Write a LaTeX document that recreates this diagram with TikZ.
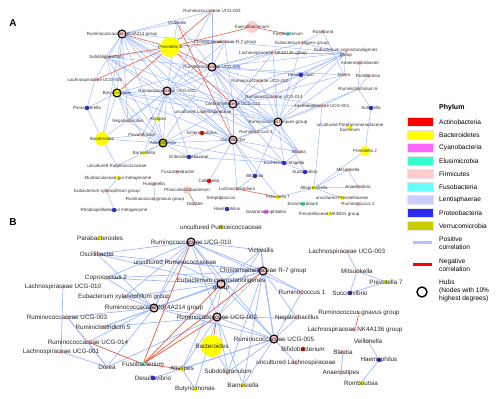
\documentclass[tikz,border=0pt]{standalone}
\usepackage{fontspec}
\setmainfont{Liberation Sans}
\usepackage{xcolor}
\usetikzlibrary{backgrounds}

\definecolor{actc}{HTML}{FF0000}
\definecolor{bacc}{HTML}{FFFF00}
\definecolor{cyac}{HTML}{FF66FF}
\definecolor{eluc}{HTML}{33FFCC}
\definecolor{firc}{HTML}{FFCCCC}
\definecolor{fusc}{HTML}{66FFFF}
\definecolor{lenc}{HTML}{CCCCFF}
\definecolor{proc}{HTML}{2B2BF0}
\definecolor{verc}{HTML}{CCCC00}
\definecolor{posc}{HTML}{9DB9FF}
\definecolor{negc}{HTML}{E5583F}

\tikzset{
  nd/.style={circle, inner sep=0pt, minimum size=4.5pt, draw=none},
  hub/.style={circle, inner sep=0pt, minimum size=8pt, draw=black, line width=1.1pt},
  la/.style={font=\fontsize{4.5}{5}\selectfont, inner sep=0pt, text=black!80},
  lb/.style={font=\fontsize{6.3}{7}\selectfont, inner sep=0pt, text=black!85},
  lg/.style={font=\fontsize{6.6}{8}\selectfont, inner sep=0pt, anchor=west, align=left},
  legbox/.style={rectangle, minimum width=26pt, minimum height=9pt, inner sep=0pt, draw=white!90!black},
  posedge/.style={draw=posc, line width=0.5pt},
  negedge/.style={draw=negc, line width=0.55pt},
  panel/.style={font=\bfseries\fontsize{10}{10}\selectfont}
}

\begin{document}
\begin{tikzpicture}[x=1pt, y=-1pt]
\useasboundingbox (0,0) rectangle (504,399);

% panel A
\node[panel] (pA) at (13,23) {A};
\node[hub,fill=firc,label={[la]center:Ruminococcaceae NK4A214 group}] (aNK) at (122,34) {};
\node[nd,fill=bacc,minimum size=20pt,label={[la]center:Prevotella 9}] (aPrev9) at (170,47) {};
\node[nd,fill=firc,label={[la]center:Subdoligranulum}] (aSubdo) at (106,57) {};
\node[nd,fill=firc,label={[la]center:Lachnospiraceae UCG-006}] (aLUCG006) at (95,80) {};
\node[hub,fill=bacc,label={[la]center:Butyricimonas}] (aButy) at (117,93) {};
\node[hub,fill=firc,label={[la]center:Ruminococcaceae UCG-002}] (aRUCG002) at (167,91) {};
\node[nd,fill=proc,label={[la]center:Parasutterella}] (aParas) at (87,108) {};
\node[nd,fill=firc,label={[la]center:Ruminococcaceae UCG-003}] (aUCG003) at (212,11) {};
\node[nd,fill=lenc,label={[la]center:Victivallis}] (aVicti) at (177,23) {};
\node[nd,fill=firc,minimum size=12pt,label={[la]center:Faecalibacterium}] (aFaec) at (252,27) {};
\node[nd,fill=fusc,label={[la]center:Fusobacterium}] (aFuso) at (288,34) {};
\node[nd,fill=firc,label={[la]center:Christensenellaceae R-7 group}] (aChris) at (225,42) {};
\node[nd,fill=firc,label={[la]center:Eubacterium eligens group}] (aEelig) at (302,43) {};
\node[nd,fill=firc,label={[la]center:Lachnospiraceae NK4A136 group}] (aLNK136) at (273,53) {};
\node[hub,fill=firc,label={[la]center:Ruminococcaceae UCG-005}] (aUCG005) at (212,67) {};
\node[nd,fill=proc,label={[la]center:Desulfovibrio}] (aDesulfo) at (301,75) {};
\node[nd,fill=firc,label={[la]center:Ruminococcaceae UCG-010}] (aR010) at (260,81) {};
\node[nd,fill=firc,label={[la]center:Ruminococcaceae UCG-014}] (aRUCG014) at (274,97) {};
\node[hub,fill=firc,label={[la]center:Lachnospiraceae UCG-010}] (aLhub) at (233,104) {};
\node[nd,fill=firc,label={[la]center:Lachnospiraceae UCG-001}] (aLUCG001) at (322,106) {};
\node[nd,fill=firc,label={[la]center:Roseburia}] (aRoseb) at (323,32) {};
\node[nd,fill=firc,label={[la,align=center]center:Eubacterium coprostanoligenes\\group}] (aEcopro) at (346,53) {};
\node[nd,fill=firc,label={[la]center:Anaerosporobacter}] (aAnaerosp) at (360,63) {};
\node[nd,fill=firc,label={[la]center:Dorea}] (aDorea) at (344,75) {};
\node[nd,fill=firc,label={[la]center:Romboutsia}] (aRombo) at (368,76) {};
\node[nd,fill=firc,label={[la]center:Ruminiclostridium 6}] (aRclos6) at (358,89) {};
\node[nd,fill=proc,label={[la]center:Sutterella}] (aSutt) at (371,108) {};
\node[nd,fill=firc,label={[la]center:Negativibacillus}] (aNegat) at (128,121) {};
\node[nd,fill=bacc,label={[la]center:Alistipes}] (aAlis) at (158,119) {};
\node[nd,fill=bacc,minimum size=14pt,label={[la]center:Bacteroides}] (aBact) at (102,139) {};
\node[nd,fill=firc,label={[la]center:Flavonifractor}] (aFlavo) at (142,135) {};
\node[hub,fill=verc,label={[la]center:Akkermansia}] (aAkk) at (163,143) {};
\node[nd,fill=bacc,label={[la]center:Barnesiella}] (aBarn) at (144,153) {};
\node[nd,fill=firc,label={[la]center:uncultured Ruminococcaceae}] (aUncRum) at (117,166) {};
\node[nd,fill=bacc,label={[la]center:Muribaculaceae gut metagenome}] (aMuri) at (118,178) {};
\node[nd,fill=firc,label={[la]center:Eubacterium xylanophilum group}] (aEuxyl) at (107,191) {};
\node[nd,fill=firc,label={[la]center:Hungatella}] (aHunga) at (154,184) {};
\node[nd,fill=firc,label={[la]center:Ruminococcus gnavus group}] (aRgnav) at (155,199) {};
\node[nd,fill=proc,label={[la]center:Rhodospirillales gut metagenome}] (aRhodo) at (114,210) {};
\node[nd,fill=firc,label={[la]center:uncultured Lachnospiraceae}] (aUncLach) at (203,112) {};
\node[hub,fill=firc,label={[la]center:Ruminococcus torques group}] (aRtorq) at (278,122) {};
\node[nd,fill=firc,label={[la]center:Ruminococcus 1}] (aRum1) at (256,132) {};
\node[nd,fill=actc,label={[la]center:Enterorhabdus}] (aEnterorh) at (202,133) {};
\node[hub,fill=firc,label={[la]center:Oscillibacter}] (aOsci) at (233,140) {};
\node[nd,fill=firc,label={[la]center:Blautia}] (aBlautia) at (299,152) {};
\node[nd,fill=proc,label={[la]center:Enterobacteriaceae}] (aEntero) at (189,157) {};
\node[nd,fill=proc,label={[la]center:Escherichia-Shigella}] (aEsch) at (284,163) {};
\node[nd,fill=firc,label={[la]center:Fusicatenibacter}] (aFusicat) at (178,172) {};
\node[nd,fill=proc,label={[la]center:Succinivibrio}] (aSuccin) at (305,172) {};
\node[nd,fill=proc,label={[la]center:Bilophila}] (aBilo) at (255,176) {};
\node[nd,fill=actc,label={[la]center:Collinsella}] (aColl) at (209,181) {};
\node[nd,fill=firc,minimum size=8pt,label={[la]center:Phascolarctobacterium}] (aPhasc) at (187,190) {};
\node[nd,fill=firc,label={[la]center:Lachnoclostridium}] (aLachnoc) at (237,189) {};
\node[nd,fill=bacc,label={[la]center:Prevotella 7}] (aPrev7) at (278,197) {};
\node[nd,fill=bacc,label={[la]center:Alloprevotella}] (aAllop) at (314,188) {};
\node[nd,fill=firc,label={[la]center:Streptococcus}] (aStrep) at (221,198) {};
\node[nd,fill=firc,label={[la]center:Dialister}] (aDial) at (195,204) {};
\node[nd,fill=eluc,label={[la]center:Elusimicrobium}] (aElusi) at (303,204) {};
\node[nd,fill=proc,label={[la]center:Haemophilus}] (aHaem) at (227,209) {};
\node[nd,fill=cyac,label={[la]center:Gastranaerophilales}] (aGastr) at (266,212) {};
\node[nd,fill=bacc,label={[la]center:Prevotellaceae NK3B31 group}] (aPNK3B31) at (329,214) {};
\node[nd,fill=bacc,label={[la,align=center]center:uncultured Porphyromonadaceae\\bacterium}] (aPorph) at (350,127) {};
\node[nd,fill=bacc,minimum size=10pt,label={[la]center:Prevotella 2}] (aPrev2) at (365,151) {};
\node[nd,fill=firc,label={[la]center:Mitsuokella}] (aMitsu) at (348,170) {};
\node[nd,fill=firc,label={[la]center:Anaerovibrio}] (aAnaerovib) at (358,187) {};
\node[nd,fill=bacc,label={[la]center:uncultured Prevotellaceae}] (aUncPrev) at (342,198) {};
\node[nd,fill=firc,label={[la]center:Ruminococcus 2}] (aRum2) at (358,204) {};

% panel B
\node[panel] (pB) at (13,222) {B};
\node[nd,fill=verc,label={[lb]center:uncultured Puniceicoccaceae}] (bPuni) at (221,227) {};
\node[nd,fill=bacc,label={[lb]center:Parabacteroides}] (bParab) at (100,238) {};
\node[hub,fill=firc,label={[lb]center:Ruminococcaceae UCG-010}] (bRUCG010) at (191,242) {};
\node[nd,fill=lenc,label={[lb]center:Victivallis}] (bVicti) at (261,250) {};
\node[nd,fill=firc,label={[lb]center:Oscillibacter}] (bOsci) at (97,254) {};
\node[nd,fill=firc,label={[lb]center:uncultured Ruminococcaceae}] (bUncRum) at (175,262) {};
\node[hub,fill=firc,label={[lb]center:Christensenellaceae R-7 group}] (bChris) at (263,271) {};
\node[nd,fill=firc,label={[lb]center:Lachnospiraceae UCG-003}] (bLUCG003) at (347,252) {};
\node[nd,fill=firc,label={[lb]center:Mitsuokella}] (bMitsu) at (357,271) {};
\node[nd,fill=firc,label={[lb]center:Coprococcus 2}] (bCopro2) at (106,278) {};
\node[hub,fill=firc,label={[lb,align=center]center:Eubacterium coprostanoligenes\\group}] (bEcopro) at (221,284) {};
\node[nd,fill=bacc,label={[lb]center:Prevotella 7}] (bPrev7) at (386,282) {};
\node[nd,fill=firc,label={[lb]center:Lachnospiraceae UCG-010}] (bLUCG010) at (63,287) {};
\node[nd,fill=firc,label={[lb]center:Ruminococcus 1}] (bRum1) at (302,292) {};
\node[nd,fill=proc,label={[lb]center:Succinivibrio}] (bSuccin) at (350,293) {};
\node[nd,fill=firc,label={[lb]center:Eubacterium xylanophilum group}] (bEuxyl) at (124,297) {};
\node[hub,fill=firc,label={[lb]center:Ruminococcaceae NK4A214 group}] (bNK) at (154,308) {};
\node[nd,fill=firc,label={[lb]center:Ruminococcaceae UCG-003}] (bUCG003) at (67,317) {};
\node[nd,fill=firc,label={[lb]center:Ruminiclostridium 5}] (bRclos) at (103,327) {};
\node[hub,fill=firc,label={[lb]center:Ruminococcaceae UCG-002}] (bUCG002) at (217,317) {};
\node[nd,fill=firc,label={[lb]center:Negativibacillus}] (bNegat) at (297,318) {};
\node[nd,fill=firc,label={[lb]center:Ruminococcus gnavus group}] (bGnav) at (359,313) {};
\node[nd,fill=firc,label={[lb]center:Lachnospiraceae NK4A136 group}] (bLNK136) at (355,330) {};
\node[hub,fill=firc,label={[lb]center:Ruminococcaceae UCG-005}] (bUCG005) at (274,339) {};
\node[nd,fill=firc,label={[lb]center:Veillonella}] (bVeil) at (368,341) {};
\node[nd,fill=firc,label={[lb]center:Ruminococcaceae UCG-014}] (bUCG014) at (88,342) {};
\node[nd,fill=bacc,minimum size=22pt,label={[lb]center:Bacteroides}] (bBact) at (212,346) {};
\node[nd,fill=actc,label={[lb]center:Bifidobacterium}] (bBifido) at (303,349) {};
\node[nd,fill=firc,label={[lb]center:Lachnospiraceae UCG-001}] (bLUCG001) at (61,352) {};
\node[nd,fill=firc,label={[lb]center:Blautia}] (bBlautia) at (343,352) {};
\node[nd,fill=proc,label={[lb]center:Haemophilus}] (bHaem) at (379,360) {};
\node[nd,fill=firc,label={[lb]center:uncultured Lachnospiraceae}] (bUncLach) at (296,363) {};
\node[nd,fill=fusc,label={[lb]center:Fusobacterium}] (bFuso) at (143,364) {};
\node[nd,fill=firc,label={[lb]center:Dorea}] (bDorea) at (107,367) {};
\node[nd,fill=bacc,label={[lb]center:Alistipes}] (bAlis) at (182,369) {};
\node[nd,fill=firc,label={[lb]center:Subdoligranulum}] (bSubdo) at (228,372) {};
\node[nd,fill=firc,label={[lb]center:Anaerostipes}] (bAnaerost) at (341,373) {};
\node[nd,fill=proc,label={[lb]center:Desulfovibrio}] (bDesulfo) at (153,378) {};
\node[nd,fill=bacc,label={[lb]center:Romboutsia}] (bRombo) at (361,383) {};
\node[nd,fill=bacc,label={[lb]center:Barnesiella}] (bBarn) at (243,385) {};
\node[nd,fill=bacc,label={[lb]center:Butyricimonas}] (bButy) at (195,389) {};

\begin{scope}[on background layer]
\foreach \a/\b in {aNK/aSubdo,aNK/aLUCG006,aNK/aButy,aNK/aRUCG002,aNK/aUCG005,aNK/aLhub,aNK/aVicti,aNK/aChris,aNK/aOsci,aNK/aAkk,aNK/aRtorq,aNK/aBact,aNK/aNegat,aNK/aRum1,aNK/aUCG003,
  aButy/aSubdo,aButy/aParas,aButy/aBact,aButy/aAkk,aButy/aRUCG002,aButy/aUCG005,aButy/aLhub,aButy/aOsci,aButy/aNegat,aButy/aFlavo,aButy/aRtorq,
  aSubdo/aRUCG002,aSubdo/aUCG005,aSubdo/aLhub,aSubdo/aOsci,aSubdo/aAkk,aSubdo/aChris,
  aRUCG002/aUCG005,aRUCG002/aLhub,aRUCG002/aOsci,aRUCG002/aAkk,aRUCG002/aRtorq,aRUCG002/aRum1,aRUCG002/aChris,aRUCG002/aLNK136,aRUCG002/aVicti,aRUCG002/aUCG003,aRUCG002/aBact,aRUCG002/aFlavo,aRUCG002/aBarn,aRUCG002/aEntero,aRUCG002/aNegat,aRUCG002/aAlis,
  aUCG005/aLhub,aUCG005/aOsci,aUCG005/aRtorq,aUCG005/aAkk,aUCG005/aChris,aUCG005/aUCG003,aUCG005/aLNK136,aUCG005/aDesulfo,aUCG005/aR010,aUCG005/aRUCG014,aUCG005/aEelig,aUCG005/aEcopro,aUCG005/aDorea,aUCG005/aRum1,aUCG005/aBlautia,aUCG005/aVicti,
  aLhub/aOsci,aLhub/aRtorq,aLhub/aAkk,aLhub/aRum1,aLhub/aEsch,aLhub/aBlautia,aLhub/aLUCG001,aLhub/aEcopro,aLhub/aDorea,aLhub/aDesulfo,aLhub/aRUCG014,aLhub/aChris,aLhub/aLNK136,aLhub/aUncLach,aLhub/aR010,
  aRtorq/aOsci,aRtorq/aRum1,aRtorq/aBlautia,aRtorq/aEsch,aRtorq/aEcopro,aRtorq/aDorea,aRtorq/aLUCG001,aRtorq/aDesulfo,aRtorq/aRUCG014,aRtorq/aRclos6,aRtorq/aSuccin,aRtorq/aBilo,aRtorq/aLNK136,aRtorq/aEelig,aRtorq/aR010,
  aOsci/aAkk,aOsci/aRum1,aOsci/aBilo,aOsci/aEsch,aOsci/aEntero,aOsci/aLachnoc,aOsci/aColl,aOsci/aBlautia,aOsci/aEnterorh,aOsci/aPrev7,aOsci/aUncLach,
  aAkk/aBact,aAkk/aFlavo,aAkk/aBarn,aAkk/aNegat,aAkk/aAlis,aAkk/aUncRum,aAkk/aEntero,aAkk/aEsch,aAkk/aEnterorh,
  aEcopro/aDorea,aEcopro/aDesulfo,aEcopro/aR010,aEcopro/aRUCG014,aEcopro/aLNK136,aEcopro/aChris,aEcopro/aEelig,
  aRoseb/aEelig,aRoseb/aDorea,aRclos6/aSutt,aRclos6/aRombo,aRclos6/aAnaerosp,aRclos6/aLUCG001,aLUCG001/aAllop,aLUCG001/aRUCG014,
  aPrev2/aSutt,aPrev2/aAllop,aMitsu/aAllop,aMitsu/aAnaerovib,aAnaerovib/aAllop,aAllop/aPrev7,aAllop/aUncPrev,aEsch/aSuccin,aEsch/aBlautia,aEntero/aEsch,aBilo/aLachnoc,
  aParas/aBact,aParas/aLUCG006,aBact/aFlavo,aBact/aUncRum,aMuri/aEuxyl,aEuxyl/aRhodo,aHunga/aRgnav}
  \draw[posedge] (\a) -- (\b);
\foreach \a/\b in {aPrev9/aNK,aPrev9/aSubdo,aPrev9/aLUCG006,aPrev9/aButy,aPrev9/aUCG003,aPrev9/aFaec,aPrev9/aChris,aPrev9/aLhub,aPrev9/aUCG005,aFaec/aFuso,aVicti/aOsci,aLachnoc/aPrev7,aPhasc/aDial}
  \draw[negedge] (\a) -- (\b);

\foreach \a/\b in {bRUCG010/bChris,bRUCG010/bEcopro,bRUCG010/bNK,bRUCG010/bUCG002,bRUCG010/bUCG005,bRUCG010/bVicti,bRUCG010/bUncRum,bRUCG010/bOsci,bRUCG010/bCopro2,bRUCG010/bEuxyl,bRUCG010/bRum1,
  bChris/bEcopro,bChris/bNK,bChris/bUCG002,bChris/bUCG005,bChris/bVicti,bChris/bOsci,bChris/bUncRum,bChris/bRum1,bChris/bNegat,bChris/bSubdo,bChris/bBarn,bChris/bCopro2,
  bEcopro/bNK,bEcopro/bUCG002,bEcopro/bUCG005,bEcopro/bOsci,bEcopro/bUncRum,bEcopro/bCopro2,bEcopro/bAlis,bEcopro/bRclos,bEcopro/bEuxyl,bEcopro/bVicti,
  bNK/bUCG002,bNK/bUCG005,bNK/bUCG003,bNK/bUCG014,bNK/bRclos,bNK/bCopro2,bNK/bOsci,bNK/bDorea,bNK/bUncRum,bNK/bEuxyl,
  bUCG002/bUCG005,bUCG002/bSubdo,bUCG002/bBarn,bUCG002/bAlis,bUCG002/bDorea,bUCG002/bRclos,bUCG002/bNegat,bUCG002/bButy,bUCG002/bVicti,
  bUCG005/bNegat,bUCG005/bSubdo,bUCG005/bBarn,bUCG005/bAlis,bUCG005/bRum1,bUCG005/bDesulfo,bUCG005/bVicti,bUCG005/bUncLach,
  bLUCG010/bLUCG001,bLUCG001/bDorea,bUCG003/bUCG014,bUCG003/bDorea,bUCG014/bDorea,bBact/bSubdo,bAlis/bButy,
  bMitsu/bLUCG003,bMitsu/bPrev7,bMitsu/bSuccin,bSuccin/bPrev7,bVeil/bHaem,bHaem/bRombo,bBlautia/bAnaerost}
  \draw[posedge, line width=0.7pt] (\a) -- (\b);
\foreach \a/\b in {bFuso/bRUCG010,bFuso/bChris,bFuso/bEcopro,bFuso/bUCG002,bFuso/bUCG014,bFuso/bAlis,bUCG002/bBact,bGnav/bLNK136}
  \draw[negedge, line width=0.7pt] (\a) -- (\b);
\end{scope}

% legend
\node[font=\bfseries\fontsize{7}{8}\selectfont, anchor=west, inner sep=0pt] (lgHead) at (439,108) {Phylum};
\foreach \c/\t [count=\i] in {actc/Actinobacteria,bacc/Bacteroidetes,cyac/Cyanobacteria,eluc/Elusimicrobia,firc/Firmicutes,fusc/Fusobacteria,lenc/Lentisphaerae,proc/Proteobacteria,verc/Verrucomicrobia}
{
  \node[legbox, fill=\c] (lgBox\i) at (420,109+13*\i) {};
  \node[lg] (lgTxt\i) at (439,109+13*\i) {\t};
}
\coordinate (posA) at (413,242);
\coordinate (posB) at (432,242);
\draw[draw=posc!85!white, line width=3pt] (posA) -- (posB);
\node[lg] (lgPos) at (439,243.5) {Positive\\correlation};
\coordinate (negA) at (413,264);
\coordinate (negB) at (432,264);
\draw[draw=red, line width=3pt] (negA) -- (negB);
\node[lg] (lgNeg) at (439,265.5) {Negative\\correlation};
\node[circle, draw=black, line width=1.4pt, minimum size=10pt, inner sep=0pt] (lgHub) at (422,292) {};
\node[lg] (lgHubTxt) at (439,290.5) {Hubs\\(Nodes with 10\%\\highest degrees)};
\end{tikzpicture}
\end{document}
